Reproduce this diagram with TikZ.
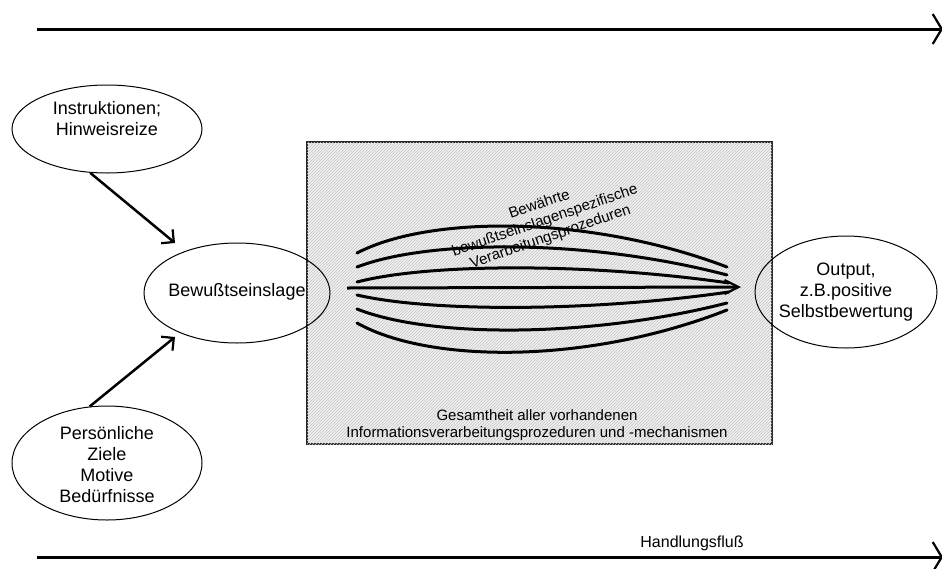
\documentclass[tikz,border=0pt]{standalone}
\usepackage{fontspec}
\setmainfont{Liberation Sans}
\usetikzlibrary{arrows.meta,shapes.geometric,patterns,calc}
\begin{document}
\begin{tikzpicture}[x=1pt,y=-1pt,
  oval/.style={draw,ellipse,line width=1pt,inner sep=0pt},
  etext/.style={align=center,inner sep=0pt,font=\fontsize{18}{21}\selectfont},
  boxtext/.style={align=center,inner sep=0pt,font=\fontsize{15}{17}\selectfont},
  flow/.style={line width=3pt,-{Straight Barb[length=9pt,width=30pt,line width=2.2pt]}},
  conn/.style={line width=2.5pt,-{Straight Barb[length=9pt,width=18pt,line width=2.2pt]}},
  strand/.style={line width=3pt,line cap=round},
  procbox/.style={draw=black!85,line width=2pt,fill=gray!12,
    postaction={pattern=north east lines,pattern color=gray!45}}]
\useasboundingbox (0,0) rectangle (942,568);

% flow arrows
\coordinate (ta) at (37,29);
\coordinate (tb) at (943,29);
\coordinate (ba) at (37,557);
\coordinate (bb) at (943,557);
\draw[flow] (ta) -- (tb);
\draw[flow] (ba) -- (bb);
\node[inner sep=0pt,font=\fontsize{16}{19}\selectfont] (hf) at (692,543) {Handlungsfluß};

% processing box
\node[procbox,minimum width=465pt,minimum height=302pt,inner sep=0pt] (box) at (539.5,293) {};

% strands
\draw[strand] (357,253) .. controls (430,215) and (590,215) .. (727,267);
\draw[strand] (357,267) .. controls (430,239) and (590,239) .. (727,275);
\draw[strand] (357,282) .. controls (430,263) and (590,263) .. (729,283);
\coordinate (sa) at (347,288);
\coordinate (sb) at (741,287);
\draw[line width=3pt,-{Straight Barb[length=14pt,width=14pt,line width=2.2pt]}] (sa) -- (sb);
\draw[strand] (357,295) .. controls (430,312) and (590,312) .. (729,292);
\draw[strand] (357,309) .. controls (430,338) and (590,338) .. (727,303);
\draw[strand] (357,323) .. controls (430,364) and (590,364) .. (727,310);

\node[boxtext,rotate=19] (proc) at (545,221)
  {Bewährte\\bewußtseinslagenspezifische\\Verarbeitungsprozeduren};
\node[boxtext] (all) at (537,425)
  {Gesamtheit aller vorhandenen\\Informationsverarbeitungsprozeduren und -mechanismen};

% ellipses
\node[oval,minimum width=190pt,minimum height=88pt] (e1) at (107,129) {};
\node[etext] (e1t) at (107,119) {Instruktionen;\\Hinweisreize};
\node[oval,minimum width=186pt,minimum height=100pt] (bw) at (237,293) {};
\node[etext] (bwt) at (237,292) {Bewußtseinslage};
\node[oval,minimum width=190pt,minimum height=114pt] (e3) at (107,463) {};
\node[etext] (e3t) at (107,465) {Persönliche\\Ziele\\Motive\\Bedürfnisse};
\node[oval,minimum width=182pt,minimum height=112pt] (out) at (846,292) {};
\node[etext] (outt) at (846,292) {Output,\\z.B.positive\\Selbstbewertung};

% connectors
\coordinate (t1) at (175,243);
\coordinate (t2) at (175,337);
\draw[conn] (e1.249) -- (t1);
\draw[conn] (e3.107) -- (t2);
\end{tikzpicture}
\end{document}
